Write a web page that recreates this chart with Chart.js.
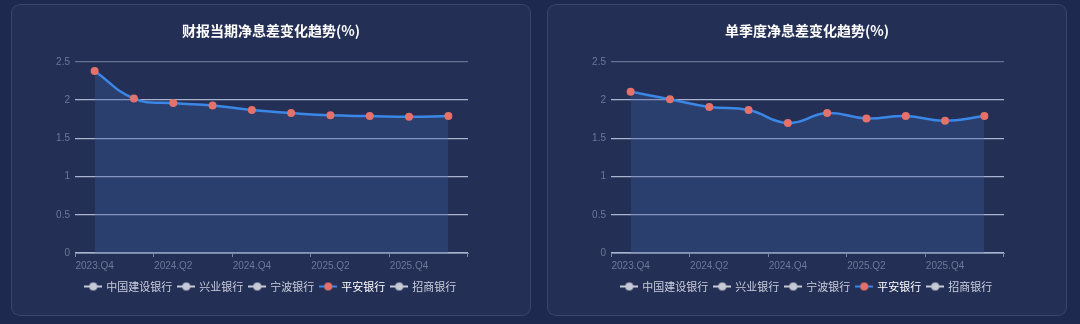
<!DOCTYPE html>
<html>
<head>
<meta charset="utf-8">
<script src="https://cdn.jsdelivr.net/npm/chart.js@4"></script>
<style>
  html, body { margin: 0; padding: 0; }
  body { width: 1080px; height: 324px; background: #1e2950; position: relative; overflow: hidden; }
  .card {
    position: absolute; top: 4px; width: 520px; height: 312px;
    box-sizing: border-box; border: 1px solid rgba(110,130,185,0.28);
    border-radius: 9px; background: #242f55;
  }
  .card .wrap { position: absolute; left: 0; top: 0; width: 518px; height: 310px; }
</style>
</head>
<body>
<div class="card" style="left:11px"><div class="wrap"><canvas id="chart1"></canvas></div></div>
<div class="card" style="left:547px"><div class="wrap"><canvas id="chart2"></canvas></div></div>
<script>
// categories
const quarters = ['2023.Q4', '2024.Q1', '2024.Q2', '2024.Q3', '2024.Q4', '2025.Q1', '2025.Q2', '2025.Q3', '2025.Q4', '2026.Q1'];
const banks = ['中国建设银行', '兴业银行', '宁波银行', '平安银行', '招商银行'];
const activeBank = '平安银行';
const yTicks = [0, 0.5, 1, 1.5, 2, 2.5];

// 平安银行 values (%)
const pinganReported = [2.38, 2.02, 1.96, 1.93, 1.87, 1.83, 1.80, 1.79, 1.78, 1.79];
const pinganQuarterly = [2.11, 2.01, 1.91, 1.87, 1.70, 1.83, 1.76, 1.79, 1.73, 1.79];

const lineBlue = '#3b87e6';
const dotRed = '#e4726a';
const fontFam = 'Helvetica, "Liberation Sans", "Noto Sans CJK SC", sans-serif';
const cjkFam = '"Noto Sans CJK SC", "Noto Sans", sans-serif';

function legendIcon(line, dot) {
    const c = document.createElement('canvas');
    c.width = 18; c.height = 10;
    const g = c.getContext('2d');
    g.strokeStyle = line; g.lineWidth = 2;
    g.beginPath(); g.moveTo(0, 5); g.lineTo(18, 5); g.stroke();
    g.fillStyle = dot;
    g.beginPath(); g.arc(9, 5, 4, 0, Math.PI * 2); g.fill();
    return c;
}
const iconOff = legendIcon('#c6cad6', '#c6cad6');
const iconOn = legendIcon(lineBlue, dotRed);

function makeChart(id, title, values) {
    const datasets = banks.map(name => {
        const on = name === activeBank;
        return {
            label: name,
            data: on ? values : [],
            hidden: !on,
            borderColor: lineBlue,
            borderWidth: 2.5,
            tension: 0.45,
            fill: 'origin',
            backgroundColor: 'rgba(58, 95, 160, 0.34)',
            pointRadius: 4,
            pointHoverRadius: 4,
            pointBackgroundColor: dotRed,
            pointBorderColor: dotRed,
            pointBorderWidth: 0
        };
    });

    new Chart(document.getElementById(id), {
        type: 'line',
        data: { labels: quarters, datasets: datasets },
        options: {
            responsive: true,
            maintainAspectRatio: false,
            animation: false,
            layout: { padding: { left: 0, right: 0, top: 0, bottom: 13 } },
            scales: {
                x: {
                    type: 'category',
                    offset: true,
                    afterFit: s => { s.height = 21.5; },
                    border: { display: true, color: '#7c87a6', width: 1 },
                    grid: {
                        display: true,
                        offset: true,
                        drawOnChartArea: false,
                        drawTicks: true,
                        tickLength: 4,
                        // tick marks only on every other band boundary
                        color: ctx => (ctx.index === undefined || ctx.index % 2 === 0) ? '#7c87a6' : 'rgba(0,0,0,0)'
                    },
                    ticks: {
                        autoSkip: false,
                        maxRotation: 0,
                        padding: 3,
                        color: '#6d7898',
                        font: { family: fontFam, size: 10 },
                        callback: function (v, i) { return i % 2 === 0 ? this.getLabelForValue(v) : ''; }
                    }
                },
                y: {
                    min: 0,
                    max: 2.5,
                    afterBuildTicks: s => { s.ticks = yTicks.map(v => ({ value: v })); },
                    afterFit: s => { s.width = 63; },
                    border: { display: false },
                    grid: {
                        drawTicks: false,
                        lineWidth: 1.2,
                        color: ctx => ctx.tick && ctx.tick.value === 2.5 ? '#66708f' : '#aab3cf'
                    },
                    ticks: {
                        padding: 5,
                        color: '#6d7898',
                        font: { family: fontFam, size: 10 },
                        callback: v => String(v)
                    }
                },
                yRight: {
                    position: 'right',
                    display: true,
                    afterFit: s => { s.width = 62; },
                    border: { display: false },
                    grid: { display: false },
                    ticks: { display: false }
                }
            },
            plugins: {
                title: {
                    display: true,
                    text: title,
                    color: '#ffffff',
                    font: { family: cjkFam, size: 14, weight: 'bold' },
                    padding: { top: 17, bottom: 23 }
                },
                legend: {
                    position: 'bottom',
                    labels: {
                        usePointStyle: true,
                        pointStyleWidth: 15,
                        padding: 6.5,
                        font: { family: cjkFam, size: 11 },
                        generateLabels: chart => chart.data.datasets.map((ds, i) => {
                            const on = ds.label === activeBank;
                            return {
                                text: ds.label,
                                datasetIndex: i,
                                hidden: false,
                                pointStyle: on ? iconOn : iconOff,
                                fillStyle: on ? dotRed : '#c6cad6',
                                strokeStyle: 'rgba(0,0,0,0)',
                                lineWidth: 0,
                                fontColor: on ? '#ffffff' : '#c9cddb'
                            };
                        })
                    },
                    onClick: () => {}
                },
                tooltip: { enabled: false }
            },
            events: []
        }
    });
}

makeChart('chart1', '财报当期净息差变化趋势(%)', pinganReported);
makeChart('chart2', '单季度净息差变化趋势(%)', pinganQuarterly);
</script>
</body>
</html>
